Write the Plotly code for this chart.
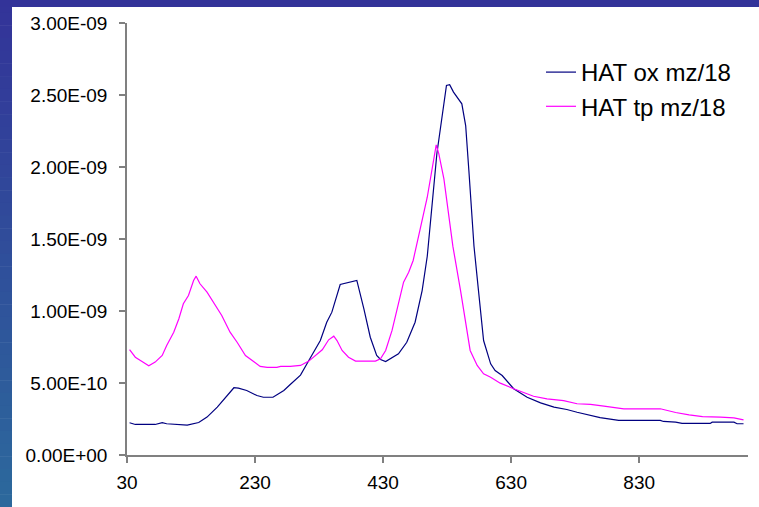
import plotly.graph_objects as go

# ---- data ----
ox_x = [34, 43, 74, 85, 92, 103, 124, 142, 155, 171, 178, 186, 197, 204, 217, 233, 243, 258,
        275, 285, 301, 314, 332, 342, 350, 363, 376, 389, 400, 410, 420, 426, 434, 441, 454,
        467, 480, 491, 499, 514, 529, 534, 540, 553, 559, 564, 572, 579, 587, 598, 605, 616,
        634, 655, 676, 697, 717, 733, 754, 769, 798, 863, 868, 887, 897, 941, 944, 978, 983, 993]
ox_y = [2.24e-10, 2.12e-10, 2.12e-10, 2.24e-10, 2.17e-10, 2.12e-10, 2.07e-10, 2.26e-10, 2.63e-10,
        3.32e-10, 3.67e-10, 4.13e-10, 4.67e-10, 4.64e-10, 4.48e-10, 4.13e-10, 4.01e-10, 4.01e-10,
        4.48e-10, 4.90e-10, 5.55e-10, 6.56e-10, 7.95e-10, 9.22e-10, 9.92e-10, 1.184e-09, 1.200e-09,
        1.212e-09, 1.015e-09, 8.18e-10, 6.91e-10, 6.63e-10, 6.49e-10, 6.68e-10, 7.03e-10, 7.83e-10,
        9.22e-10, 1.142e-09, 1.38e-09, 2.092e-09, 2.566e-09, 2.571e-09, 2.52e-09, 2.439e-09,
        2.288e-09, 1.976e-09, 1.45e-09, 1.142e-09, 7.95e-10, 6.33e-10, 5.87e-10, 5.52e-10, 4.60e-10,
        4.01e-10, 3.62e-10, 3.32e-10, 3.16e-10, 2.97e-10, 2.78e-10, 2.60e-10, 2.40e-10, 2.40e-10,
        2.33e-10, 2.28e-10, 2.19e-10, 2.19e-10, 2.28e-10, 2.28e-10, 2.17e-10, 2.17e-10]

tp_x = [34, 43, 51, 64, 74, 85, 92, 103, 111, 118, 126, 134, 138, 144, 155, 171, 178, 191, 202,
        215, 225, 238, 249, 264, 270, 285, 301, 314, 335, 345, 353, 358, 366, 376, 387, 418, 426,
        434, 444, 454, 462, 470, 477, 488, 499, 513, 517, 525, 532, 539, 551, 559, 566, 577, 587,
        598, 613, 634, 650, 665, 686, 712, 733, 754, 775, 790, 806, 863, 874, 887, 908, 929, 957,
        978, 993]
tp_y = [7.31e-10, 6.79e-10, 6.56e-10, 6.19e-10, 6.45e-10, 6.91e-10, 7.60e-10, 8.53e-10, 9.46e-10,
        1.05e-09, 1.108e-09, 1.212e-09, 1.242e-09, 1.189e-09, 1.131e-09, 1.015e-09, 9.69e-10,
        8.53e-10, 7.83e-10, 6.91e-10, 6.56e-10, 6.15e-10, 6.08e-10, 6.08e-10, 6.15e-10, 6.15e-10,
        6.22e-10, 6.52e-10, 7.31e-10, 8.00e-10, 8.25e-10, 7.95e-10, 7.26e-10, 6.79e-10, 6.52e-10,
        6.52e-10, 6.68e-10, 7.26e-10, 8.65e-10, 1.05e-09, 1.20e-09, 1.269e-09, 1.351e-09, 1.571e-09,
        1.79e-09, 2.154e-09, 2.092e-09, 1.918e-09, 1.675e-09, 1.45e-09, 1.142e-09, 9.11e-10,
        7.26e-10, 6.22e-10, 5.64e-10, 5.40e-10, 4.99e-10, 4.60e-10, 4.36e-10, 4.08e-10, 3.90e-10,
        3.78e-10, 3.56e-10, 3.51e-10, 3.39e-10, 3.32e-10, 3.21e-10, 3.21e-10, 3.09e-10, 2.95e-10,
        2.79e-10, 2.67e-10, 2.63e-10, 2.58e-10, 2.44e-10]

x_ticks = [30, 230, 430, 630, 830]
y_ticks = [0, 0.5e-9, 1.0e-9, 1.5e-9, 2.0e-9, 2.5e-9, 3.0e-9]
y_tick_text = ["0.00E+00", "5.00E-10", "1.00E-09", "1.50E-09", "2.00E-09", "2.50E-09", "3.00E-09"]

series_names = ["HAT ox mz/18", "HAT tp mz/18"]
series_colors = ["#000080", "#FF00FF"]

# ---- figure ----
W, H = 759, 507
ML, MR, MT, MB = 127, 11, 23, 52
PW, PH = W - ML - MR, H - MT - MB

fig = go.Figure()
fig.add_trace(go.Scatter(x=ox_x, y=ox_y, mode="lines", name=series_names[0],
                         line=dict(color=series_colors[0], width=1.2)))
fig.add_trace(go.Scatter(x=tp_x, y=tp_y, mode="lines", name=series_names[1],
                         line=dict(color=series_colors[1], width=1.2)))

def px2paper_x(px):
    return (px - ML) / PW

def py2paper_y(py):
    return (H - MB - py) / PH

# decorative blue gradient frame (left and top strips)
shapes = []
top_c = (0x33, 0x33, 0x99)
bot_c = (0x2c, 0x69, 0x9c)
n = 40
for i in range(n):
    t = (i + 0.5) / n
    c = tuple(int(round(top_c[k] + (bot_c[k] - top_c[k]) * t)) for k in range(3))
    y0p = H * i / n
    y1p = H * (i + 1) / n + 0.5
    shapes.append(dict(type="rect", xref="paper", yref="paper", layer="below",
                       x0=px2paper_x(0), x1=px2paper_x(12),
                       y0=py2paper_y(y1p), y1=py2paper_y(y0p),
                       fillcolor="rgb(%d,%d,%d)" % c, line=dict(width=0)))
shapes.append(dict(type="rect", xref="paper", yref="paper", layer="below",
                   x0=px2paper_x(0), x1=px2paper_x(W),
                   y0=py2paper_y(7), y1=py2paper_y(0),
                   fillcolor="rgb(51,51,153)", line=dict(width=0)))

font_family = "Liberation Sans, Arial, sans-serif"

fig.update_layout(
    width=W, height=H,
    margin=dict(l=ML, r=MR, t=MT, b=MB, pad=0),
    paper_bgcolor="white", plot_bgcolor="white",
    font=dict(family=font_family, size=19, color="black"),
    shapes=shapes,
    showlegend=True,
    legend=dict(x=px2paper_x(541), y=py2paper_y(50), xanchor="left", yanchor="top",
                bgcolor="rgba(0,0,0,0)", font=dict(size=24, family=font_family),
                itemwidth=30, tracegroupgap=0),
    xaxis=dict(range=[30, 1000], tickvals=x_ticks, ticktext=[str(v) for v in x_ticks],
               showgrid=False, zeroline=False, showline=True, linecolor="#808080",
               linewidth=1.5, ticks="outside", ticklen=6, tickcolor="#808080",
               tickwidth=1.5, tickfont=dict(size=19), automargin=False,
               ticklabelstandoff=3),
    yaxis=dict(range=[0, 3e-9], tickvals=y_ticks, ticktext=y_tick_text,
               showgrid=False, zeroline=False, showline=True, linecolor="#808080",
               linewidth=1.5, ticks="outside", ticklen=6, tickcolor="#808080",
               tickwidth=1.5, tickfont=dict(size=19), automargin=False,
               ticklabelstandoff=8),
)

fig.write_html("out.html", config={"displayModeBar": False},
               post_script="document.body.style.margin='0';document.body.style.padding='0';")
